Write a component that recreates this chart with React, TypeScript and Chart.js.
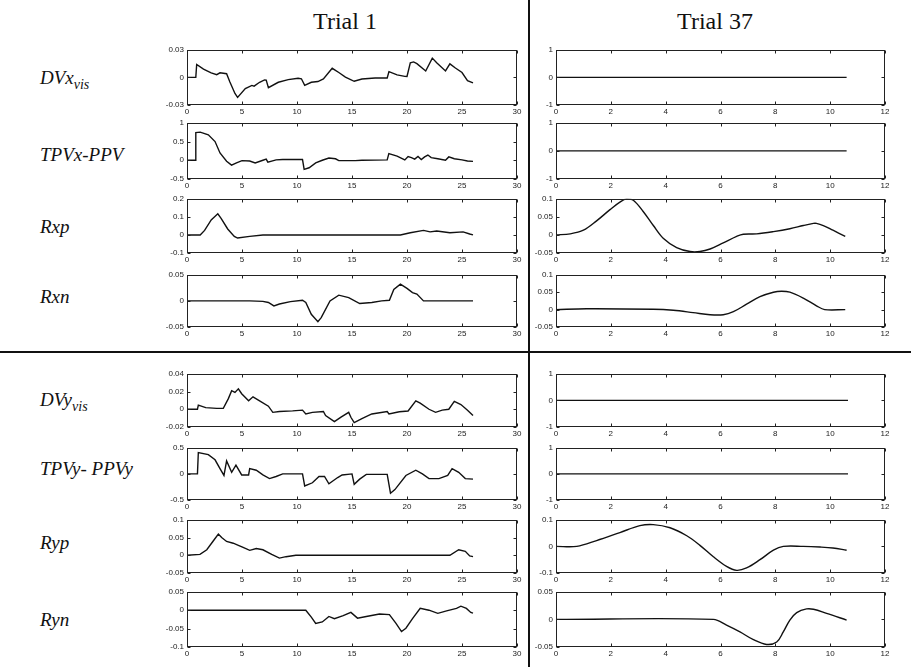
import React, { useEffect, useRef } from "react";
import { Chart, registerables } from "chart.js";
Chart.register(...registerables);

type Pt = [number, number];

// ---------- tick values ----------
const trial1XTicks = [0, 5, 10, 15, 20, 25, 30];
const trial37XTicks = [0, 2, 4, 6, 8, 10, 12];

const t1DVxTicks = [-0.03, 0, 0.03];
const t1TPVxTicks = [-0.5, 0, 0.5, 1];
const t1RxpTicks = [-0.1, 0, 0.1, 0.2];
const t1RxnTicks = [-0.05, 0, 0.05];
const t1DVyTicks = [-0.02, 0, 0.02, 0.04];
const t1TPVyTicks = [-0.5, 0, 0.5];
const t1RypTicks = [-0.05, 0, 0.05, 0.1];
const t1RynTicks = [-0.1, -0.05, 0, 0.05];

const t37UnitTicks = [-1, 0, 1];
const t37RxpTicks = [-0.05, 0, 0.05, 0.1];
const t37RxnTicks = [-0.05, 0, 0.05, 0.1];
const t37RypTicks = [-0.1, 0, 0.1];
const t37RynTicks = [-0.05, 0, 0.05];

// ---------- Trial 1 series ----------
const t1DVx: Pt[] = [[0,0],[0.8,0],[0.88,0.014],[1.5,0.009],[2.2,0.005],[2.7,0.003],[3.0,0.005],[3.6,0.004],[3.9,-0.005],[4.36,-0.0175],[4.6,-0.0217],[5.3,-0.0122],[5.9,-0.0087],[6.1,-0.0095],[6.6,-0.0053],[7.05,-0.0027],[7.2,-0.003],[7.4,-0.0112],[8.3,-0.0053],[9.2,-0.0024],[10.1,-0.001],[10.4,-0.0015],[10.7,-0.0087],[11.3,-0.0053],[11.9,-0.0045],[12.4,-0.0017],[13.2,0.0099],[13.8,0.0053],[14.4,0.0004],[15.2,-0.0042],[15.9,-0.0017],[17.1,-0.0007],[18.2,-0.0007],[18.36,0.0063],[19.1,0.0028],[19.8,0.0011],[20.0,0.001],[20.3,0.0158],[20.6,0.0168],[20.9,0.015],[21.7,0.007],[22.3,0.021],[22.7,0.016],[23.5,0.007],[23.9,0.0147],[24.4,0.0102],[25.0,0.0053],[25.5,-0.0035],[26.0,-0.006]];
const t1TPVx: Pt[] = [[0,0],[0.73,0],[0.8,0.74],[1.2,0.75],[1.94,0.68],[2.55,0.5],[3.0,0.195],[3.6,-0.026],[4.05,-0.13],[4.5,-0.07],[5.0,-0.01],[5.7,-0.02],[6.2,-0.07],[6.9,0],[7.2,0.03],[7.35,-0.05],[8.1,0.01],[8.7,0.02],[10.5,0.02],[10.65,-0.245],[11.1,-0.2],[11.7,-0.07],[12.3,0],[12.9,0.06],[13.5,0.04],[13.8,-0.01],[15.3,-0.01],[15.9,0],[18.2,0.01],[18.35,0.18],[19.1,0.11],[19.8,0.01],[20.1,0.1],[20.4,0.07],[20.7,0.03],[21.0,0.1],[21.3,0.02],[21.6,0.09],[21.9,0.14],[22.2,0.07],[22.8,0.04],[23.5,0],[23.8,0.09],[24.3,0.04],[25.0,0.01],[25.5,-0.02],[26.0,-0.03]];
const t1Rxp: Pt[] = [[0,0],[1.2,0],[1.6,0.025],[2.2,0.083],[2.8,0.117],[3.1,0.092],[3.7,0.033],[4.3,-0.008],[4.6,-0.017],[5.7,-0.008],[6.9,0],[19.4,0],[20.3,0.012],[21.5,0.025],[22.1,0.017],[22.7,0.022],[23.9,0.012],[25.1,0.017],[25.7,0.005],[26.0,0]];
const t1Rxn: Pt[] = [[0,0],[5.7,0],[6.9,-0.001],[7.4,-0.003],[7.9,-0.0096],[8.4,-0.006],[9.4,-0.0013],[10.5,0.0013],[10.8,-0.003],[11.3,-0.0256],[11.9,-0.04],[12.2,-0.032],[13.0,0],[13.8,0.011],[14.7,0.0064],[15.7,-0.005],[16.8,-0.003],[17.7,0],[18.4,0.0013],[18.8,0.022],[19.4,0.032],[20.0,0.024],[20.5,0.016],[20.9,0.013],[21.5,0],[26.0,0]];
const t1DVy: Pt[] = [[0,0],[0.95,0],[1.03,0.0046],[1.7,0.0018],[2.7,0.001],[3.3,0.001],[3.76,0.012],[4.06,0.021],[4.36,0.019],[4.67,0.023],[4.97,0.0175],[5.6,0.0095],[6.0,0.014],[6.6,0.0095],[7.4,0.0035],[7.8,-0.0035],[8.4,-0.0025],[9.6,-0.0018],[10.5,-0.001],[10.8,-0.0053],[11.4,-0.0035],[12.4,-0.0025],[12.6,-0.007],[13.4,-0.014],[14.0,-0.0088],[14.7,-0.0035],[14.9,-0.009],[15.2,-0.015],[15.9,-0.0105],[16.8,-0.0053],[18.2,-0.0025],[18.36,-0.0053],[19.3,-0.0028],[20.1,-0.002],[20.8,0.0095],[21.2,0.007],[22.0,0],[22.6,-0.0035],[23.2,-0.001],[23.8,0],[24.3,0.0088],[24.9,0.0053],[25.5,-0.001],[26.0,-0.007]];
const t1TPVy: Pt[] = [[0,0],[0.95,0],[1.03,0.41],[1.94,0.37],[2.55,0.27],[3.0,0.1],[3.36,-0.03],[3.6,0.25],[4.06,0.03],[4.45,0.17],[4.97,-0.02],[5.6,-0.02],[5.7,0.1],[6.3,0.07],[6.9,-0.02],[7.5,-0.09],[8.1,-0.05],[8.7,0],[10.5,0],[10.7,-0.23],[11.4,-0.17],[12.0,-0.05],[12.5,-0.05],[12.9,-0.19],[13.7,-0.07],[14.1,-0.02],[15.0,0],[15.2,-0.2],[15.7,-0.1],[16.3,-0.01],[18.2,-0.01],[18.5,-0.37],[18.9,-0.3],[19.9,-0.03],[20.8,0.07],[21.4,0],[22.0,-0.09],[22.9,-0.09],[23.7,-0.03],[24.1,0.1],[24.7,0.03],[25.3,-0.09],[26.0,-0.1]];
const t1Ryp: Pt[] = [[0,0],[1.18,0.0026],[1.8,0.0155],[2.4,0.041],[2.85,0.06],[3.15,0.05],[3.6,0.039],[4.2,0.034],[4.67,0.028],[5.1,0.022],[5.7,0.014],[6.3,0.019],[6.9,0.0155],[7.7,0.0026],[8.4,-0.008],[9.0,-0.004],[9.9,0],[23.9,0],[24.7,0.0155],[25.3,0.011],[25.7,-0.002],[26.0,-0.004]];
const t1Ryn: Pt[] = [[0,0],[10.8,0],[11.3,-0.019],[11.7,-0.036],[12.3,-0.032],[12.9,-0.017],[13.4,-0.023],[14.2,-0.015],[14.9,-0.006],[15.5,-0.0216],[16.3,-0.017],[17.5,-0.0103],[18.4,-0.012],[19.0,-0.036],[19.5,-0.058],[19.9,-0.049],[20.5,-0.023],[21.2,0.005],[22.0,0],[22.8,-0.0086],[23.6,-0.0017],[24.5,0.005],[24.9,0.011],[25.4,0.005],[25.8,-0.006],[26.0,-0.008]];

// ---------- Trial 37 series ----------
const t37DVx: Pt[] = [[0,0],[10.6,0]];
const t37TPVx: Pt[] = [[0,0],[10.6,0]];
const t37Rxp: Pt[] = [[0,0],[0.52,0.003],[1.0,0.013],[1.48,0.039],[1.97,0.07],[2.33,0.091],[2.58,0.1],[2.82,0.096],[3.18,0.065],[3.55,0.026],[3.91,-0.009],[4.4,-0.035],[4.89,-0.046],[5.25,-0.046],[5.62,-0.039],[6.1,-0.022],[6.59,-0.004],[6.83,0.002],[7.32,0.003],[7.93,0.009],[8.53,0.017],[9.02,0.026],[9.39,0.032],[9.5,0.032],[9.75,0.026],[10.1,0.013],[10.55,-0.004]];
const t37Rxn: Pt[] = [[0,0],[1.12,0.0026],[3.55,0.001],[4.28,-0.002],[5.0,-0.0086],[5.62,-0.0147],[6.1,-0.0147],[6.47,-0.006],[6.95,0.0155],[7.44,0.037],[7.93,0.05],[8.23,0.0526],[8.53,0.05],[9.02,0.033],[9.5,0.011],[9.8,0],[10.55,0]];
const t37DVy: Pt[] = [[0,0],[10.65,0]];
const t37TPVy: Pt[] = [[0,0],[10.65,0]];
const t37Ryp: Pt[] = [[0,0],[0.76,0],[1.48,0.022],[2.33,0.052],[3.06,0.078],[3.55,0.082],[4.16,0.07],[4.77,0.04],[5.25,0.004],[5.74,-0.039],[6.22,-0.075],[6.59,-0.09],[6.95,-0.081],[7.44,-0.05],[7.93,-0.014],[8.29,0],[9.02,0],[9.63,-0.0024],[10.1,-0.006],[10.6,-0.0145]];
const t37Ryn: Pt[] = [[0,0],[5.74,0],[6.22,-0.0104],[6.71,-0.0227],[7.2,-0.0368],[7.68,-0.0454],[8.05,-0.041],[8.29,-0.0227],[8.53,-0.0012],[8.78,0.0123],[9.14,0.019],[9.39,0.0184],[9.87,0.011],[10.6,-0.0012]];

// ---------- layout ----------
const rowBoxes: [number, number][] = [
  [48, 105], [121, 179], [197, 253], [273, 327],
  [372, 427], [446, 500], [518, 573], [590, 647],
];
const colBoxes: [number, number][] = [[187, 517], [556, 885]];
const labelCenters = [78, 155, 227, 297, 400, 469, 543, 620];

type PanelDef = { col: number; row: number; data: Pt[]; yTicks: number[]; smooth: boolean };

const panels: PanelDef[] = [
  { col: 0, row: 0, data: t1DVx, yTicks: t1DVxTicks, smooth: false },
  { col: 0, row: 1, data: t1TPVx, yTicks: t1TPVxTicks, smooth: false },
  { col: 0, row: 2, data: t1Rxp, yTicks: t1RxpTicks, smooth: false },
  { col: 0, row: 3, data: t1Rxn, yTicks: t1RxnTicks, smooth: false },
  { col: 0, row: 4, data: t1DVy, yTicks: t1DVyTicks, smooth: false },
  { col: 0, row: 5, data: t1TPVy, yTicks: t1TPVyTicks, smooth: false },
  { col: 0, row: 6, data: t1Ryp, yTicks: t1RypTicks, smooth: false },
  { col: 0, row: 7, data: t1Ryn, yTicks: t1RynTicks, smooth: false },
  { col: 1, row: 0, data: t37DVx, yTicks: t37UnitTicks, smooth: true },
  { col: 1, row: 1, data: t37TPVx, yTicks: t37UnitTicks, smooth: true },
  { col: 1, row: 2, data: t37Rxp, yTicks: t37RxpTicks, smooth: true },
  { col: 1, row: 3, data: t37Rxn, yTicks: t37RxnTicks, smooth: true },
  { col: 1, row: 4, data: t37DVy, yTicks: t37UnitTicks, smooth: true },
  { col: 1, row: 5, data: t37TPVy, yTicks: t37UnitTicks, smooth: true },
  { col: 1, row: 6, data: t37Ryp, yTicks: t37RypTicks, smooth: true },
  { col: 1, row: 7, data: t37Ryn, yTicks: t37RynTicks, smooth: true },
];

const Y_W = 40;
const X_H = 14;
const PAD_T = 6;
const PAD_R = 8;
const TICK_FONT = { size: 8, family: "'Liberation Sans', Arial, sans-serif" };

const fmt = (v: number) => String(Number(v.toFixed(4)));

const boxPlugin = {
  id: "matlabBox",
  afterDraw(chart: any) {
    const { ctx, chartArea: a, scales } = chart;
    ctx.save();
    ctx.strokeStyle = "#222";
    ctx.lineWidth = 1;
    const l = Math.round(a.left) + 0.5, t = Math.round(a.top) + 0.5;
    const r = Math.round(a.right) - 0.5, b = Math.round(a.bottom) - 0.5;
    ctx.strokeRect(l, t, r - l, b - t);
    const tl = 3;
    ctx.beginPath();
    for (const tk of scales.x.ticks) {
      const px = Math.round(scales.x.getPixelForValue(tk.value)) + 0.5;
      ctx.moveTo(px, b); ctx.lineTo(px, b - tl);
      ctx.moveTo(px, t); ctx.lineTo(px, t + tl);
    }
    for (const tk of scales.y.ticks) {
      const py = Math.round(scales.y.getPixelForValue(tk.value)) + 0.5;
      ctx.moveTo(l, py); ctx.lineTo(l + tl, py);
      ctx.moveTo(r, py); ctx.lineTo(r - tl, py);
    }
    ctx.stroke();
    ctx.restore();
  },
};

function Panel({ def }: { def: PanelDef }) {
  const ref = useRef<HTMLCanvasElement | null>(null);
  const [bl, br] = colBoxes[def.col];
  const [bt, bb] = rowBoxes[def.row];
  const w = br - bl + Y_W + PAD_R;
  const h = bb - bt + PAD_T + X_H;
  const xTicks = def.col === 0 ? trial1XTicks : trial37XTicks;

  useEffect(() => {
    if (!ref.current) return;
    const yT = def.yTicks;
    const chart = new Chart(ref.current, {
      type: "line",
      data: {
        datasets: [
          {
            data: def.data.map(([x, y]) => ({ x, y })),
            borderColor: "#111",
            borderWidth: 1.4,
            pointRadius: 0,
            fill: false,
            tension: def.smooth ? 0.35 : 0,
          },
        ],
      },
      options: {
        responsive: false,
        maintainAspectRatio: false,
        animation: false,
        layout: { padding: { top: PAD_T, right: PAD_R, left: 0, bottom: 0 } },
        plugins: { legend: { display: false }, tooltip: { enabled: false } },
        scales: {
          x: {
            type: "linear",
            min: xTicks[0],
            max: xTicks[xTicks.length - 1],
            grid: { display: false, drawTicks: false, tickLength: 0 },
            border: { display: false },
            ticks: { font: TICK_FONT, color: "#222", padding: 2, maxRotation: 0, autoSkip: false, callback: (v: any) => fmt(Number(v)) },
            afterBuildTicks: (s: any) => { s.ticks = xTicks.map((v) => ({ value: v })); },
            afterFit: (s: any) => { s.height = X_H; },
          },
          y: {
            type: "linear",
            min: yT[0],
            max: yT[yT.length - 1],
            grid: { display: false, drawTicks: false, tickLength: 0 },
            border: { display: false },
            ticks: { font: TICK_FONT, color: "#222", padding: 3, autoSkip: false, callback: (v: any) => fmt(Number(v)) },
            afterBuildTicks: (s: any) => { s.ticks = yT.map((v) => ({ value: v })); },
            afterFit: (s: any) => { s.width = Y_W; },
          },
        },
      } as any,
      plugins: [boxPlugin],
    });
    return () => chart.destroy();
  }, [def]);

  return (
    <canvas
      ref={ref}
      width={w}
      height={h}
      style={{ position: "absolute", left: bl - Y_W, top: bt - PAD_T, width: w, height: h }}
    />
  );
}

const serif = "'Liberation Serif', 'Times New Roman', serif";

function RowLabel({ y, children }: { y: number; children: React.ReactNode }) {
  return (
    <div
      style={{
        position: "absolute", left: 40, top: y - 12, height: 24, lineHeight: "24px",
        fontFamily: serif, fontStyle: "italic", fontSize: 19, color: "#111", whiteSpace: "nowrap",
      }}
    >
      {children}
    </div>
  );
}

const subStyle: React.CSSProperties = { fontSize: 14, position: "relative", top: 5 };

export default function App() {
  return (
    <div style={{ position: "absolute", left: 0, top: 0, width: 911, height: 667, background: "#fff", overflow: "hidden" }}>
      <div style={{ position: "absolute", left: 245, width: 200, top: 8, textAlign: "center", fontFamily: serif, fontSize: 24, color: "#111" }}>Trial 1</div>
      <div style={{ position: "absolute", left: 615, width: 200, top: 8, textAlign: "center", fontFamily: serif, fontSize: 24, color: "#111" }}>Trial 37</div>

      <RowLabel y={labelCenters[0]}>DVx<span style={subStyle}>vis</span></RowLabel>
      <RowLabel y={labelCenters[1]}>TPVx-PPV</RowLabel>
      <RowLabel y={labelCenters[2]}>Rxp</RowLabel>
      <RowLabel y={labelCenters[3]}>Rxn</RowLabel>
      <RowLabel y={labelCenters[4]}>DVy<span style={subStyle}>vis</span></RowLabel>
      <RowLabel y={labelCenters[5]}>TPVy- PPVy</RowLabel>
      <RowLabel y={labelCenters[6]}>Ryp</RowLabel>
      <RowLabel y={labelCenters[7]}>Ryn</RowLabel>

      <div style={{ position: "absolute", left: 0, top: 351, width: 911, height: 2, background: "#111" }} />
      <div style={{ position: "absolute", left: 528, top: 0, width: 2, height: 667, background: "#111" }} />

      {panels.map((p, i) => (
        <Panel key={i} def={p} />
      ))}
    </div>
  );
}
